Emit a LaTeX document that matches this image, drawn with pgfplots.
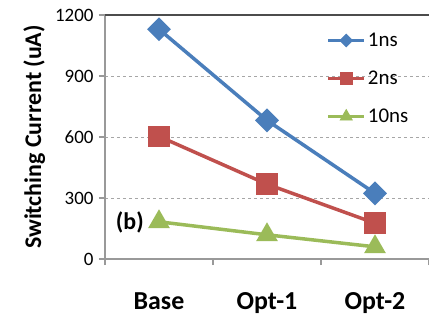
\documentclass[border=0pt]{standalone}
\usepackage{pgfplots}
\pgfplotsset{compat=1.18}
\usepackage{fontspec}
\setmainfont{Carlito}
\definecolor{cblue}{HTML}{4A7EBB}
\definecolor{cred}{HTML}{C0504D}
\definecolor{cgreen}{HTML}{9BBB59}
\pgfplotsset{
  limg/.style n args={3}{legend image code/.code={%
    \draw (0bp,0bp) -- (36bp,0bp);
    \begin{scope}[shift={(18bp,0bp)}, rotate=#2, line width=0.8pt]
      \pgfsetplotmarksize{#1}\pgfuseplotmark{#3}
    \end{scope}}},
}
\begin{document}
\begin{tikzpicture}
\path[use as bounding box] (-105bp,-61bp) rectangle (324bp,259bp);
\begin{axis}[
  scale only axis, width=324bp, height=244bp,
  xmin=-0.5, xmax=2.5, ymin=0, ymax=1200,
  axis x line*=bottom, axis y line*=left,
  axis line style={draw=gray!80, line width=1.2pt, -},
  xtick={-0.5,0.5,1.5,2.5}, xticklabels={},
  extra x ticks={0,1,2}, extra x tick labels={Base,Opt-1,Opt-2},
  extra x tick style={major tick length=0pt, grid=none,
    xticklabel style={font=\fontsize{26}{26}\selectfont\bfseries, yshift=-30bp}},
  ytick={0,300,600,900,1200},
  ymajorgrids, grid style={dashed, gray!70, line width=1pt},
  tick align=outside, major tick length=6bp,
  tick style={gray!80, line width=1.2pt},
  yticklabel style={font=\fontsize{19}{19}\selectfont, xshift=-2bp},
  /pgf/number format/assume math mode=true,
  /pgf/number format/1000 sep={},
  ylabel={Switching Current (uA)},
  ylabel style={font=\fontsize{24}{24}\selectfont\bfseries, yshift=3bp},
  legend style={at={(rel axis cs:0.683,0.935)}, anchor=north west, draw=none, fill=none,
    font=\fontsize{21}{21}\selectfont, row sep=19bp, inner sep=0pt},
  legend cell align=left,
]
\addplot[cblue, line width=3.5bp, mark=square*, mark size=6.7bp, mark options={rotate=45},
  limg={4.5bp}{45}{square*}]
  coordinates {(0,1130) (1,682) (2,323)};
\addlegendentry{1ns}
\addplot[cred, line width=3.5bp, mark=square*, mark size=9bp, limg={6.2bp}{0}{square*}]
  coordinates {(0,603) (1,368) (2,176)};
\addlegendentry{2ns}
\addplot[cgreen, line width=3.5bp, mark=triangle*, mark size=9bp, limg={7bp}{0}{triangle*}]
  coordinates {(0,183) (1,119) (2,60)};
\addlegendentry{10ns}
\draw[gray!60!black, line width=2pt] (rel axis cs:0,1) -- (rel axis cs:1,1);
\node[font=\fontsize{24}{24}\selectfont\bfseries] at (axis cs:-0.27,182) {(b)};
\end{axis}
\end{tikzpicture}
\end{document}
